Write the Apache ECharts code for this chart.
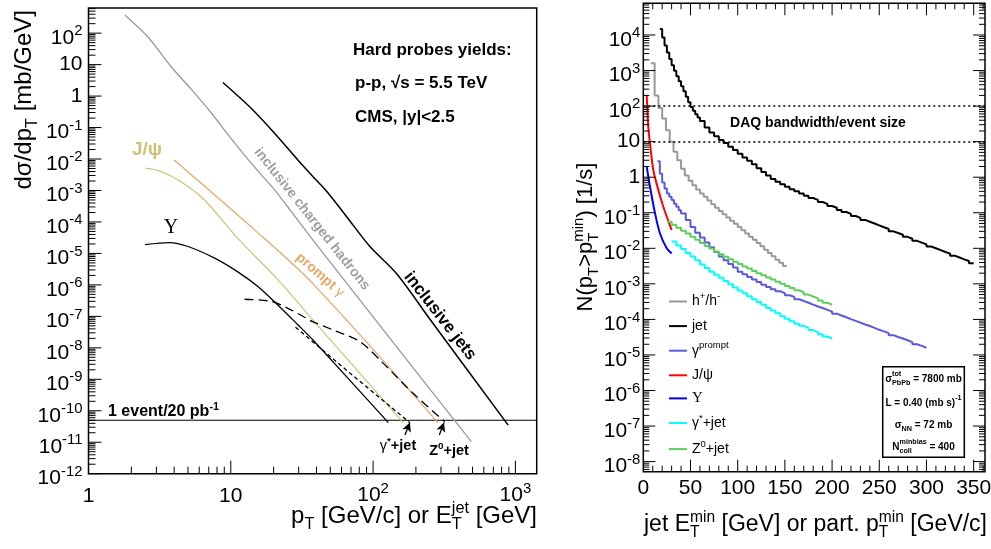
<!DOCTYPE html>
<html><head><meta charset="utf-8">
<script src="https://cdn.jsdelivr.net/npm/echarts@6/dist/echarts.min.js"></script>
<style>html,body{margin:0;padding:0;background:#fff}#c{width:991px;height:549px}</style>
</head><body><div id="c"></div><script>
// ================= DATA =================
// ---- left panel: p-p cross sections dσ/dpT [mb/GeV] vs pT ----
const hadX = [1.8, 2.6, 3.8, 5.3, 7.3, 10, 13.9, 20.3, 26.5, 37.7, 118, 490];
const hadY = [380, 78, 8.7, 1.6, 0.29, 0.046, 7.4e-3, 1.05e-3, 2.2e-4, 2.7e-5, 3.7e-8, 1.05e-11];
const incJetX = [8.8, 13.9, 20.3, 29.6, 37.7, 47, 65, 95, 146, 257, 890];
const incJetY = [2.7, 0.41, 0.066, 9.3e-3, 2.8e-3, 9.7e-4, 1.5e-4, 1.65e-5, 2.3e-6, 7e-8, 3.5e-11];
const jpsiX = [2.5, 3.24, 4.47, 6.53, 11.2, 21.5, 37.7, 163];
const jpsiY = [5.1e-3, 4e-3, 1.9e-3, 5e-4, 3e-5, 1.45e-6, 7.7e-8, 4.2e-11];
const promptX = [4.0, 14.7, 37.7, 286];
const promptY = [9.3e-3, 5.6e-5, 1.1e-6, 4.2e-11];
const upsX = [2.5, 3.7, 5, 7.7, 11.2, 15.5, 21.4, 29.6, 37.7, 128];
const upsY = [1.9e-5, 2.2e-5, 1.66e-5, 7.1e-6, 2.6e-6, 8.9e-7, 2.3e-7, 5.4e-8, 1.8e-8, 4.2e-11];
const zjetX = [12.5, 19.2, 25.2, 33, 37.9, 52.3, 80.6, 118, 191, 319];
const zjetY = [3.5e-7, 3e-7, 1.8e-7, 9.4e-8, 6.7e-8, 3.7e-8, 1.6e-8, 3.2e-9, 3.6e-10, 4.5e-11];
const gjetX = [28.5, 69, 181];
const gjetY = [4.5e-8, 1.55e-9, 4.2e-11];
const oneEventLevel = 5e-11;
const arrowGstar = [[167.5, 1.7e-11], [181.5, 4.2e-11]];
const arrowZ0 = [[292, 1.7e-11], [315, 4.2e-11]];

// ---- right panel: rates N(pT > pTmin) [1/s] ----
const jetEdges = [17.5,20,22.5,25,27.5,30,32.5,35,37.5,40,42.5,45,47.5,50,52.5,55,57.5,
  60,65,70,75,80,85,90,95,100,105,110,115,120,125,130,135,140,145,150,155,160,165,170,175,180,185,190,195,
  200,205,210,215,220,225,230,235,240,245,250,255,260,265,270,275,280,285,290,295,300,305,310,315,320,325,
  330,335,340,345,350];
const jetVals = [1.48e4,8.5e3,5.1e3,3.2e3,2.1e3,1.41e3,980,690,500,360,260,182,129,95,74,59,48,
  38,25,18.2,14.1,11.2,9.1,7.2,5.8,4.6,3.6,2.9,2.3,1.78,1.41,1.12,0.89,0.74,0.63,0.54,0.46,0.40,0.35,0.30,0.26,
  0.23,0.20,0.178,0.155,0.138,0.120,0.105,0.093,0.081,0.072,0.063,0.056,0.050,0.044,0.039,0.035,0.030,0.027,
  0.024,0.021,0.0186,0.0162,0.0145,0.0129,0.0112,0.0100,0.0089,0.0079,0.0071,0.0062,0.0055,0.0049,0.0044,0.0038];
const hadEdges = [8,12,16,20,24,28,32,36,40,44,48,52,56,60,64,68,72,76,80,84,88,92,96,100,104,108,112,116,120,
  124,128,132,136,140,144,148,152];
const hadVals = [1.6e3,200,89,45,21,10,5.2,3.0,1.74,1.12,0.79,0.59,0.45,0.35,0.28,0.22,0.174,0.138,0.112,0.091,
  0.074,0.060,0.049,0.040,0.032,0.026,0.021,0.0174,0.0141,0.0115,0.0091,0.0074,0.0060,0.0048,0.0039,0.0032];
const gpEdges = [15,17.5,20,22.5,25,27.5,30,32.5,35,37.5,40,45,50,55,60,65,70,75,80,85,90,95,100,105,110,115,120,
  125,130,135,140,145,150,155,160,165,170,175,180,185,190,195,200,205,210,215,220,225,230,235,240,245,250,255,
  260,265,270,275,280,285,290,295,300];
const gpVals = [2.8,1.26,0.71,0.48,0.35,0.28,0.23,0.18,0.148,0.117,0.095,0.063,0.040,0.0275,0.020,0.0145,0.0107,
  0.0079,0.0059,0.0046,0.0036,0.0029,0.0022,0.00186,0.00155,0.00132,0.00112,9.5e-4,8.1e-4,7.1e-4,6.2e-4,5.5e-4,
  4.8e-4,4.3e-4,3.7e-4,3.3e-4,2.95e-4,2.6e-4,2.3e-4,2.1e-4,1.86e-4,1.66e-4,1.45e-4,1.29e-4,1.15e-4,1.02e-4,
  9.1e-5,8.1e-5,7.2e-5,6.5e-5,5.8e-5,5.1e-5,4.6e-5,4.1e-5,3.6e-5,3.2e-5,2.9e-5,2.6e-5,2.3e-5,2.0e-5,1.8e-5,1.6e-5];
const jpsiRateX = [3.6, 4.3, 5.3, 7.1, 10.6, 15.9, 21.2, 30];
const jpsiRateY = [205, 78, 26, 8.9, 1.6, 0.44, 0.148, 0.033];
const upsRateX = [3.6, 7.1, 12.4, 17.7, 24.8, 30];
const upsRateY = [2.0, 0.54, 0.097, 0.026, 0.010, 0.0072];
const gstarEdges = [30,35,40,45,50,55,60,65,70,75,80,85,90,95,100,105,110,115,120,125,130,135,140,145,150,155,
  160,165,170,175,180,185,190,195,200];
const gstarVals = [0.0155,0.0120,0.0095,0.0074,0.0059,0.0046,0.0035,0.0028,0.0022,0.0018,0.00148,0.00120,9.8e-4,
  7.9e-4,6.5e-4,5.4e-4,4.5e-4,3.7e-4,3.1e-4,2.6e-4,2.1e-4,1.78e-4,1.48e-4,1.23e-4,1.05e-4,8.9e-5,7.6e-5,6.6e-5,
  5.8e-5,5.0e-5,4.4e-5,3.8e-5,3.3e-5,2.9e-5];
const z0Edges = [25,30,35,40,45,50,55,60,65,70,75,80,85,90,95,100,105,110,115,120,125,130,135,140,145,150,155,
  160,165,170,175,180,185,190,195,200];
const z0Vals = [0.056,0.046,0.038,0.031,0.026,0.021,0.0174,0.0141,0.0117,0.0098,0.0081,0.0068,0.0058,0.0049,
  0.0042,0.0036,0.0031,0.0027,0.0023,0.0020,0.00174,0.00151,0.00132,0.00115,0.00100,8.7e-4,7.6e-4,6.6e-4,5.8e-4,
  5.0e-4,4.4e-4,3.9e-4,3.4e-4,2.95e-4,2.6e-4];
const daqLevels = [100, 10];

// ---- axes / tick labels ----
const L_X = [1, 1412], L_Y = [1e-12, 630];
const R_X = [0, 362], R_Y = [5.2e-9, 7.8e4];
const leftXExp = [0, 1, 2, 3];
const leftYExp = [-12,-11,-10,-9,-8,-7,-6,-5,-4,-3,-2,-1,0,1,2];
const rightYExp = [-8,-7,-6,-5,-4,-3,-2,-1,0,1,2,3,4];
const rightXLab = [0,50,100,150,200,250,300,350];

// ================= BUILD =================
const FONT = "'Liberation Sans', Arial, Helvetica, sans-serif";
const SERIF = "'Liberation Serif', 'Times New Roman', serif";

function R(fs, o) {
  o = o || {};
  const fw = o.bold ? 'bold' : 'normal', col = o.color || '#000', fam = o.family || FONT;
  const ss = Math.round(fs * (o.sr || 0.68) * 10) / 10;
  const base = {fontWeight: fw, fontFamily: fam, fill: col, verticalAlign: 'middle', align: 'left'};
  const sup = Object.assign({}, base, {fontSize: ss, padding: [0, 0, fs * (o.sp || 0.66), 0]});
  const sub = Object.assign({}, base, {fontSize: ss, padding: [fs * (o.dp || 0.8), 0, 0, 0]});
  return {
    m: Object.assign({}, base, {fontSize: fs}),
    g: Object.assign({}, base, {fontSize: fs, fontWeight: 'normal'}),
    y: Object.assign({}, base, {fontSize: fs * 1.1, fontFamily: SERIF, fontWeight: 'normal'}),
    s: sup, d: sub,
    s0: Object.assign({}, sup, {width: 0.01}),
    d0: Object.assign({}, sub, {width: 0.01})
  };
}

function logTicks(lo, hi) {
  const maj = [], min = [];
  const e0 = Math.floor(Math.log10(lo)) - 1, e1 = Math.ceil(Math.log10(hi)) + 1;
  for (let e = e0; e <= e1; e++) {
    const b = Math.pow(10, e);
    if (b >= lo * 0.9999 && b <= hi * 1.0001) maj.push(b);
    for (let k = 2; k <= 9; k++) { const v = k * b; if (v >= lo && v <= hi) min.push(v); }
  }
  return {maj, min};
}

// tick items: [x, y, dir(0 right,1 left,2 up,3 down), len]
const tickL = [], tickR = [];
(function () {
  let t = logTicks(L_Y[0], L_Y[1]);
  t.maj.forEach(v => tickL.push([L_X[0], v, 0, 13]));
  t.min.forEach(v => tickL.push([L_X[0], v, 0, 7]));
  t = logTicks(L_X[0], L_X[1]);
  t.maj.forEach(v => tickL.push([v, L_Y[0], 2, 13]));
  t.min.forEach(v => tickL.push([v, L_Y[0], 2, 7]));
  t = logTicks(R_Y[0], R_Y[1]);
  t.maj.forEach(v => { tickR.push([R_X[0], v, 0, 12]); tickR.push([R_X[1], v, 1, 12]); });
  t.min.forEach(v => { tickR.push([R_X[0], v, 0, 6]); tickR.push([R_X[1], v, 1, 6]); });
  for (let v = 10; v <= R_X[1]; v += 10) {
    const L = (v % 50 === 0) ? 12 : 6;
    tickR.push([v, R_Y[0], 2, L]); tickR.push([v, R_Y[1], 3, L]);
  }
})();

function tickSeries(gi, items) {
  return {
    type: 'custom', xAxisIndex: gi, yAxisIndex: gi, silent: true, clip: false, z: 6,
    data: items, encode: {x: 0, y: 1},
    renderItem: function (params, api) {
      const p = api.coord([api.value(0), api.value(1)]);
      const d = api.value(2), L = api.value(3);
      let x2 = p[0], y2 = p[1];
      if (d === 0) x2 += L; else if (d === 1) x2 -= L; else if (d === 2) y2 -= L; else y2 += L;
      return {type: 'line', shape: {x1: p[0], y1: p[1], x2: x2, y2: y2}, style: {stroke: '#000', lineWidth: 1}};
    }
  };
}

const LBL_RICH = R(21, {sr: 0.71, sp: 0.66});
function expText(e) { if (e === 0) return '{m|1}'; if (e === 1) return '{m|10}'; return '{m|10}{s|' + e + '}'; }
function labelSeries(gi, items, texts, align, dx, dy, supDy) {
  return {
    type: 'custom', xAxisIndex: gi, yAxisIndex: gi, silent: true, clip: false, z: 6,
    data: items, encode: {x: 0, y: 1},
    renderItem: function (params, api) {
      const p = api.coord([api.value(0), api.value(1)]);
      const t = texts[params.dataIndex];
      const hasSup = t.indexOf('{s|') >= 0;
      return {type: 'text', x: p[0] + dx, y: p[1] + dy + (hasSup ? supDy : 0),
        style: {text: t, rich: LBL_RICH, align: align, verticalAlign: 'middle'}};
    }
  };
}

function pairs(xs, ys) { return xs.map((x, i) => [x, ys[i]]); }
function lineL(name, xs, ys, color, width, dash, extra) {
  return Object.assign({type: 'line', name: name, xAxisIndex: 0, yAxisIndex: 0, data: pairs(xs, ys),
    symbol: 'none', showSymbol: false, smooth: 0.3, silent: true, z: 3, color: color,
    lineStyle: {color: color, width: width, type: dash || 'solid'}}, extra || {});
}
function hist(name, edges, vals, color, extra) {
  const d = vals.map((v, i) => [edges[i], v]);
  d.push([edges[vals.length], vals[vals.length - 1]]);
  return Object.assign({type: 'line', name: name, xAxisIndex: 1, yAxisIndex: 1, step: 'end', data: d,
    symbol: 'none', showSymbol: false, silent: true, z: 3, color: color,
    lineStyle: {color: color, width: 2}}, extra || {});
}
function lineR(name, xs, ys, color) {
  return {type: 'line', name: name, xAxisIndex: 1, yAxisIndex: 1, data: pairs(xs, ys), symbol: 'none',
    showSymbol: false, smooth: 0.3, silent: true, z: 3, color: color, lineStyle: {color: color, width: 2}};
}
const arrowML = (pts) => ({silent: true, symbol: ['none', 'arrow'], symbolSize: [7, 9], label: {show: false},
  lineStyle: {color: '#000', width: 1.3, type: 'solid'}, data: [[{coord: pts[0]}, {coord: pts[1]}]]});

const C = {gray: '#999999', olive: '#cfc47c', orange: '#e5a86a', violet: '#5a5ae0', green: '#5cce5c'};

const series = [
  {type: 'line', name: 'oneEvent', xAxisIndex: 0, yAxisIndex: 0, symbol: 'none', silent: true, z: 2,
    data: [[L_X[0], oneEventLevel], [L_X[1], oneEventLevel]], lineStyle: {color: '#000', width: 1}},
  lineL('chargedHadrons', hadX, hadY, C.gray, 1.3),
  lineL('inclusiveJets', incJetX, incJetY, '#000', 1.5),
  lineL('jpsiXsec', jpsiX, jpsiY, C.olive, 1.3),
  lineL('promptGamma', promptX, promptY, C.orange, 1.3),
  lineL('upsXsec', upsX, upsY, '#000', 1.3),
  lineL('z0jetXsec', zjetX, zjetY, '#000', 1.3, [9, 5], {markLine: arrowML(arrowZ0)}),
  lineL('gstarjetXsec', gjetX, gjetY, '#000', 1.3, [4, 3], {smooth: false, markLine: arrowML(arrowGstar)}),
  hist('h+/h-', hadEdges, hadVals, C.gray),
  hist('jet', jetEdges, jetVals, '#000', {markLine: {silent: true, symbol: 'none', label: {show: false},
    lineStyle: {color: '#000', width: 1.5, type: [2, 3]}, data: daqLevels.map(v => ({yAxis: v}))}}),
  hist('gprompt', gpEdges, gpVals, C.violet),
  lineR('jpsi', jpsiRateX, jpsiRateY, '#ff0000'),
  lineR('ups', upsRateX, upsRateY, '#0000ff'),
  hist('gstar', gstarEdges, gstarVals, '#00ffff'),
  hist('z0', z0Edges, z0Vals, C.green),
  tickSeries(0, tickL), tickSeries(1, tickR),
  labelSeries(0, leftYExp.map(e => [L_X[0], Math.pow(10, e)]), leftYExp.map(expText), 'right', -6, 0, 5),
  labelSeries(0, leftXExp.map(e => [Math.pow(10, e), L_Y[0]]), leftXExp.map(expText), 'center', 0, 23, -1),
  labelSeries(1, rightYExp.map(e => [R_X[0], Math.pow(10, e)]), rightYExp.map(expText), 'right', -3, 0, 5),
  labelSeries(1, rightXLab.map(v => [v, R_Y[0]]), rightXLab.map(v => '{m|' + v + '}'), 'center', 0, 16.5, 0)
];

const LEG_TXT = {
  'h+/h-': '{m|h}{s|+}{m|/h}{s|-}', 'jet': '{m|jet}', 'gprompt': '{m|γ}{s|prompt}', 'jpsi': '{m|J/ψ}',
  'ups': '{y|Υ}', 'gstar': '{m|γ}{s|*}{m|+jet}', 'z0': '{m|Z}{s|0}{m|+jet}'
};
const legRich = {
  m: {fontSize: 14, fontFamily: FONT, color: '#000', lineHeight: 17, verticalAlign: 'middle', align: 'left'},
  y: {fontSize: 15, fontFamily: SERIF, color: '#000', lineHeight: 17, verticalAlign: 'middle', align: 'left'},
  s: {fontSize: 9.5, fontFamily: FONT, color: '#000', lineHeight: 17, padding: [0, 0, 10, 0], verticalAlign: 'middle', align: 'left'}
};

function T(x, y, text, rich, extra) {
  return Object.assign({type: 'text', x: x, y: y, silent: true, z: 10,
    style: Object.assign({text: text, rich: rich, align: 'left', verticalAlign: 'middle'}, (extra && extra.style) || {})},
    extra && extra.rotation != null ? {rotation: extra.rotation} : {});
}

const graphic = [
  // axis titles
  T(24, 10, '{m|dσ/dp}{d|T}{m| [mb/GeV]}', R(24, {dp: 0.7}), {rotation: Math.PI / 2, style: {align: 'right'}}),
  T(537, 516, '{m|p}{d|T}{m| [GeV/c] or E}{d0|T}{s|jet}{m| [GeV]}', R(24, {dp: 0.7}), {style: {align: 'right'}}),
  T(987, 525, '{m|jet E}{d0|T}{s|min}{m| [GeV] or part. p}{d0|T}{s|min}{m| [GeV/c]}', R(23, {dp: 0.7}), {style: {align: 'right'}}),
  T(586, 237, '{m|N(p}{d|T}{m|>p}{d0|T}{s|min}{m|) [1/s]}', R(22, {dp: 0.7}), {rotation: Math.PI / 2, style: {align: 'center'}}),
  // left annotations
  T(353, 50, '{m|Hard probes yields:}', R(17, {bold: true})),
  T(355, 83, '{m|p-p, √s = 5.5 TeV}', R(17, {bold: true})),
  T(355, 117, '{m|CMS, |y|<2.5}', R(17, {bold: true})),
  T(147, 150, '{m|J/ψ}', R(19, {bold: true, color: '#cdc278'}), {style: {align: 'center'}}),
  T(171, 228, '{m|Υ}', R(20, {family: SERIF}), {style: {align: 'center'}}),
  T(312, 219, '{m|inclusive charged hadrons}', R(14, {bold: true, color: '#a0a0a0'}), {rotation: -0.90, style: {align: 'center'}}),
  T(320, 275, '{m|prompt }{g|γ}', R(14, {bold: true, color: '#e5a86a'}), {rotation: -0.72, style: {align: 'center'}}),
  T(440, 316, '{m|inclusive jets}', R(17, {bold: true}), {rotation: -0.91, style: {align: 'center'}}),
  T(108, 412, '{m|1 event/20 pb}{s|-1}', R(16, {bold: true})),
  T(398, 446, '{g|γ}{s|*}{m|+jet}', R(14.5, {bold: true}), {style: {align: 'center'}}),
  T(449, 451, '{m|Z}{s|0}{m|+jet}', R(14.5, {bold: true}), {style: {align: 'center'}}),
  // right annotations
  T(818, 123, '{m|DAQ bandwidth/event size}', R(14, {bold: true}), {style: {align: 'center'}}),
  {type: 'rect', shape: {x: 882.7, y: 366.7, width: 81.6, height: 90.6}, z: 9, silent: true,
    style: {fill: '#fff', stroke: '#000', lineWidth: 1.5}},
  T(923.5, 379, '{m|σ}{s0|tot}{d|PbPb}{m| = 7800 mb}', R(10, {bold: true, sr: 0.72, sp: 0.9, dp: 0.9}), {style: {align: 'center'}}),
  T(923.5, 403, '{m|L = 0.40 (mb s)}{s|-1}', R(10, {bold: true, sr: 0.72, sp: 0.9}), {style: {align: 'center'}}),
  T(923.5, 425, '{m|σ}{d|NN}{m| = 72 mb}', R(10, {bold: true, sr: 0.72, dp: 0.9}), {style: {align: 'center'}}),
  T(923.5, 447, '{m|N}{d0|coll}{s|minbias}{m| = 400}', R(10, {bold: true, sr: 0.72, sp: 0.9, dp: 0.9}), {style: {align: 'center'}})
];

const hide = {axisLine: {show: false}, axisTick: {show: false}, axisLabel: {show: false}, splitLine: {show: false}};
const option = {
  animation: false,
  backgroundColor: '#fff',
  grid: [
    {left: 88.5, top: 8, width: 448.2, height: 465.7, show: true, borderColor: '#000', borderWidth: 1.5, backgroundColor: 'transparent'},
    {left: 643.3, top: 3.3, width: 341.7, height: 468.4, show: true, borderColor: '#000', borderWidth: 1.5, backgroundColor: 'transparent'}
  ],
  xAxis: [
    Object.assign({type: 'log', gridIndex: 0, min: L_X[0], max: L_X[1]}, hide),
    Object.assign({type: 'value', gridIndex: 1, min: R_X[0], max: R_X[1]}, hide)
  ],
  yAxis: [
    Object.assign({type: 'log', gridIndex: 0, min: L_Y[0], max: L_Y[1]}, hide),
    Object.assign({type: 'log', gridIndex: 1, min: R_Y[0], max: R_Y[1]}, hide)
  ],
  legend: {
    data: ['h+/h-', 'jet', 'gprompt', 'jpsi', 'ups', 'gstar', 'z0'],
    orient: 'vertical', left: 669, top: 291.5, itemWidth: 18, itemHeight: 2, itemGap: 6.1, icon: 'rect',
    selectedMode: false, padding: 0,
    formatter: n => LEG_TXT[n],
    textStyle: {fontSize: 14, fontFamily: FONT, color: '#000', lineHeight: 17, rich: legRich}
  },
  series: series,
  graphic: graphic
};
const chart = echarts.init(document.getElementById('c'), null, {width: 991, height: 549});
chart.setOption(option);
</script></body></html>
